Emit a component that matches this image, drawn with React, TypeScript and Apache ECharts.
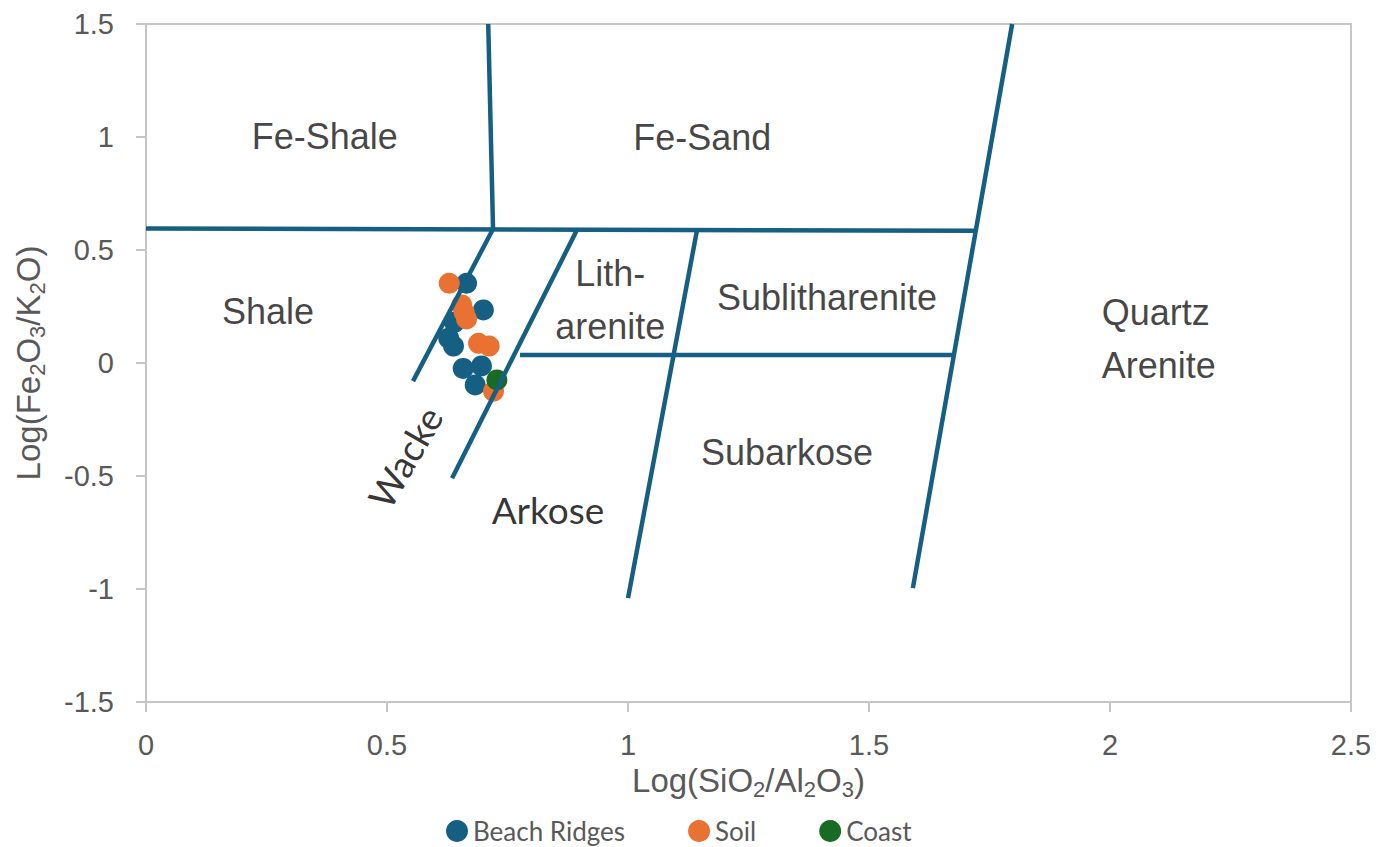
import React, { useEffect, useRef } from "react";
import * as echarts from "echarts";

// Sample points: [log(SiO2/Al2O3), log(Fe2O3/K2O)]
const beachRidges: [number, number][] = [
  [0.665, 0.353],
  [0.700, 0.235],
  [0.640, 0.180],
  [0.628, 0.110],
  [0.638, 0.075],
  [0.658, -0.024],
  [0.696, -0.013],
  [0.683, -0.097],
];

const soil: [number, number][] = [
  [0.629, 0.353],
  [0.655, 0.257],
  [0.660, 0.225],
  [0.665, 0.195],
  [0.690, 0.087],
  [0.712, 0.075],
  [0.721, -0.125],
];

const coast: [number, number][] = [[0.728, -0.075]];

// Classification field boundaries (Herron 1988), each a segment [start, end]
const boundaryLines: [number, number][][] = [
  [[0.0, 0.595], [1.7215, 0.585]],
  [[0.71, 1.5], [0.72, 0.593]],
  [[0.72, 0.593], [0.554, -0.08]],
  [[0.894, 0.588], [0.635, -0.51]],
  [[1.143, 0.586], [1.0, -1.04]],
  [[1.797, 1.5], [1.591, -0.996]],
  [[0.776, 0.035], [1.676, 0.035]],
];

// Field names and their anchor points
const regionNames = [
  "Fe-Shale",
  "Fe-Sand",
  "Shale",
  "Lith-\narenite",
  "Sublitharenite",
  "Quartz\nArenite",
  "Subarkose",
  "Arkose",
  "Wacke",
];
const regionX = [0.371, 1.154, 0.253, 0.963, 1.413, 1.983, 1.33, 0.834, 0.537];
const regionY = [1.004, 0.996, 0.226, 0.279, 0.292, 0.104, -0.394, -0.65, -0.416];

const seriesNames = ["Beach Ridges", "Soil", "Coast"];
const seriesColors = ["#156082", "#E97132", "#196B24"];

const AXIS_FONT = "'Liberation Sans', Arial, sans-serif";
const LABEL_FONT = "'Liberation Sans', Arial, sans-serif";
const ALT_FONT = "Lato, 'Liberation Sans', sans-serif";
const GREY = "#595959";
const FRAME = "#c6c6c6";
const LINE_BLUE = "#156082";

function regionLabelStyle(name: string) {
  const base: any = {
    show: true,
    position: "inside",
    formatter: "{b}",
    fontSize: 36,
    lineHeight: 53,
    color: "#141414",
    fontFamily: LABEL_FONT,
    align: "center",
  };
  if (name.startsWith("Quartz")) {
    base.align = "left";
  }
  if (name === "Arkose") {
    base.fontFamily = ALT_FONT;
    base.color = "#000000";
    base.fontSize = 37;
  }
  if (name === "Wacke") {
    base.fontFamily = ALT_FONT;
    base.color = "#000000";
    base.fontSize = 37;
    base.rotate = 60;
  }
  return base;
}

export default function App() {
  const ref = useRef<HTMLDivElement>(null);

  useEffect(() => {
    if (!ref.current) return;
    const chart = echarts.init(ref.current, undefined, { renderer: "svg" });

    const pointSeries = [beachRidges, soil, coast].map((data, i) => ({
      name: seriesNames[i],
      type: "scatter",
      data,
      symbol: "circle",
      symbolSize: 21,
      itemStyle: { color: seriesColors[i], opacity: 1 },
      z: 2,
    }));

    const lineSeries = boundaryLines.map((seg, i) => ({
      name: "boundary" + i,
      type: "line",
      data: seg,
      showSymbol: false,
      symbol: "none",
      lineStyle: { color: LINE_BLUE, width: 4.5 },
      silent: true,
      z: 3,
    }));

    const labelSeries = {
      name: "fields",
      type: "scatter",
      silent: true,
      symbolSize: 1,
      itemStyle: { color: "rgba(0,0,0,0)" },
      data: regionNames.map((n, i) => ({
        name: n,
        value: [regionX[i], regionY[i]],
        label: regionLabelStyle(n),
      })),
      z: 4,
    };

    const richAxis = (size: number) => ({
      n: { fontSize: size, lineHeight: 40, color: GREY, fontFamily: AXIS_FONT },
      s: {
        fontSize: Math.round(size * 0.66),
        lineHeight: 20,
        verticalAlign: "bottom",
        color: GREY,
        fontFamily: AXIS_FONT,
      },
    });

    chart.setOption({
      animation: false,
      backgroundColor: "#ffffff",
      grid: {
        left: 146,
        top: 24,
        right: 38,
        bottom: 145,
        show: true,
        borderColor: FRAME,
        borderWidth: 2,
        containLabel: false,
      },
      legend: {
        data: seriesNames,
        left: 441,
        top: 813,
        icon: "circle",
        itemWidth: 22,
        itemHeight: 22,
        itemGap: 63,
        textStyle: { fontSize: 26, color: GREY, fontFamily: ALT_FONT },
      },
      xAxis: {
        type: "value",
        min: 0,
        max: 2.5,
        interval: 0.5,
        name: "{n|Log(SiO}{s|2}{n|/Al}{s|2}{n|O}{s|3}{n|)}",
        nameLocation: "middle",
        nameGap: 50,
        nameTextStyle: { rich: richAxis(33) },
        axisLine: { show: true, onZero: false, lineStyle: { color: FRAME, width: 2 } },
        axisTick: { show: true, length: 10, lineStyle: { color: FRAME, width: 2 } },
        axisLabel: { fontSize: 29, color: GREY, fontFamily: AXIS_FONT, margin: 28 },
        splitLine: { show: false },
      },
      yAxis: {
        type: "value",
        min: -1.5,
        max: 1.5,
        interval: 0.5,
        name: "{n|Log(Fe}{s|2}{n|O}{s|3}{n|/K}{s|2}{n|O)}",
        nameLocation: "middle",
        nameGap: 98,
        nameTextStyle: { rich: richAxis(33) },
        axisLine: { show: true, onZero: false, lineStyle: { color: FRAME, width: 2 } },
        axisTick: { show: true, length: 10, lineStyle: { color: FRAME, width: 2 } },
        axisLabel: { fontSize: 29, color: GREY, fontFamily: AXIS_FONT, margin: 32 },
        splitLine: { show: false },
      },
      series: [...pointSeries, ...lineSeries, labelSeries],
    });

    return () => chart.dispose();
  }, []);

  return (
    <div
      ref={ref}
      style={{ position: "fixed", left: 0, top: 0, width: 1389, height: 847 }}
    />
  );
}
